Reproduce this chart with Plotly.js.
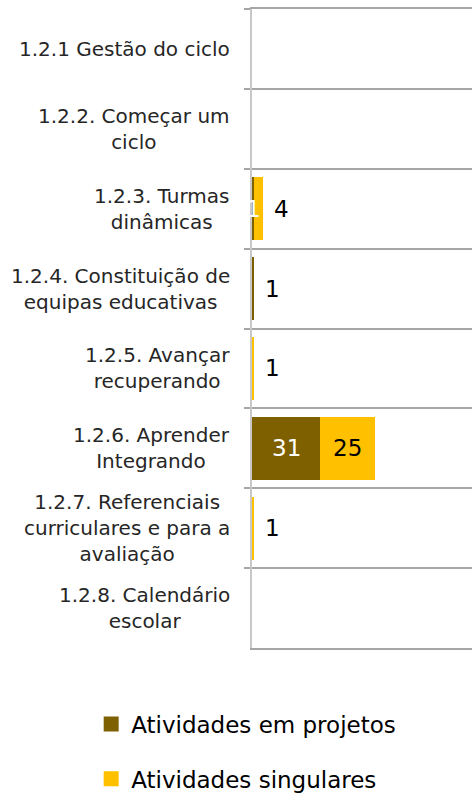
<!DOCTYPE html>
<html>
<head>
<meta charset="utf-8">
<script src="https://cdn.plot.ly/plotly-3.0.1.min.js"></script>
<style>html,body{margin:0;padding:0;background:#fff;}#chart{width:472px;height:793px;}</style>
</head>
<body>
<div id="chart"></div>
<script>
const categories = ["1.2.1 Gestão do ciclo", "1.2.2. Começar um<br>ciclo", "1.2.3. Turmas<br>dinâmicas",
  "1.2.4. Constituição de<br>equipas educativas", "1.2.5. Avançar<br>recuperando", "1.2.6. Aprender<br>Integrando",
  "1.2.7. Referenciais<br>curriculares e para a<br>avaliação", "1.2.8. Calendário<br>escolar"];
const seriesNames = ["Atividades em projetos", "Atividades singulares"];
const projetos = [0, 0, 1, 1, 0, 31, 0, 0];
const singulares = [0, 0, 4, 0, 1, 25, 1, 0];
const seriesValues = [projetos, singulares];
const colors = ["#7f6000", "#ffc000"];
const insideFont = ["#ffffff", "#000000"];
const xMax = 100;

const FONT = "DejaVu Sans, sans-serif";
const traces = [];
seriesNames.forEach((name, s) => traces.push({
  type: "bar", orientation: "h", name: name,
  y: categories, x: seriesValues[s],
  marker: {color: colors[s], line: {width: 0}},
  showlegend: false,
  hoverinfo: "skip"
}));
seriesNames.forEach((name, s) => traces.push({
  type: "scatter", mode: "markers", name: name,
  x: [null], y: [null],
  marker: {symbol: "square", size: 15, color: colors[s]},
  legendgroup: "g" + s, showlegend: true, hoverinfo: "skip"
}));

const annotations = [];
categories.forEach(c => annotations.push({
  xref: "paper", yref: "y", x: -0.091, y: c, text: c, showarrow: false,
  xanchor: "right", align: "center", font: {family: FONT, size: 20, color: "#262626"}
}));
const pxPerUnit = 220 / xMax;
categories.forEach((c, i) => {
  let cum = 0;
  let lastNZ = -1;
  seriesValues.forEach((vals, s) => { if (vals[i] > 0) lastNZ = s; });
  seriesValues.forEach((vals, s) => {
    const v = vals[i];
    if (v > 0) {
      if (v * pxPerUnit < 30 && s === lastNZ) {
        annotations.push({xref: "x", yref: "y", x: cum + v, y: c, text: String(v), showarrow: false,
          xanchor: "left", xshift: 9, font: {family: FONT, size: 23, color: "#000000"}});
      } else {
        annotations.push({xref: "x", yref: "y", x: cum + v / 2, y: c, text: String(v), showarrow: false,
          xanchor: "center", font: {family: FONT, size: 23, color: insideFont[s]}});
      }
    }
    cum += v;
  });
});

const layout = {
  width: 472, height: 793,
  margin: {l: 252, r: 0, t: 9, b: 145, pad: 0, autoexpand: false},
  paper_bgcolor: "#ffffff", plot_bgcolor: "#ffffff",
  barmode: "stack", bargap: 0.21,
  showlegend: true,
  xaxis: {range: [0, xMax], showgrid: false, zeroline: false, showticklabels: false, ticks: "",
    showline: true, mirror: true, linecolor: "#a6a6a6", linewidth: 2, fixedrange: true},
  yaxis: {autorange: "reversed", type: "category", tickson: "boundaries", showgrid: true, gridcolor: "#a6a6a6", gridwidth: 2,
    ticks: "outside", ticklen: 6, tickwidth: 2, tickcolor: "#a6a6a6", showticklabels: false,
    showline: true, linecolor: "#c8c8c8", linewidth: 2, zeroline: false},
  legend: {orientation: "v", x: -0.731, xanchor: "left", y: -0.0853, yanchor: "top",
    traceorder: "grouped", tracegroupgap: 22, font: {family: FONT, size: 23, color: "#000000"}, bgcolor: "rgba(0,0,0,0)"},
  annotations: annotations
};

Plotly.newPlot("chart", traces, layout, {displayModeBar: false, staticPlot: true});
</script>
</body>
</html>
